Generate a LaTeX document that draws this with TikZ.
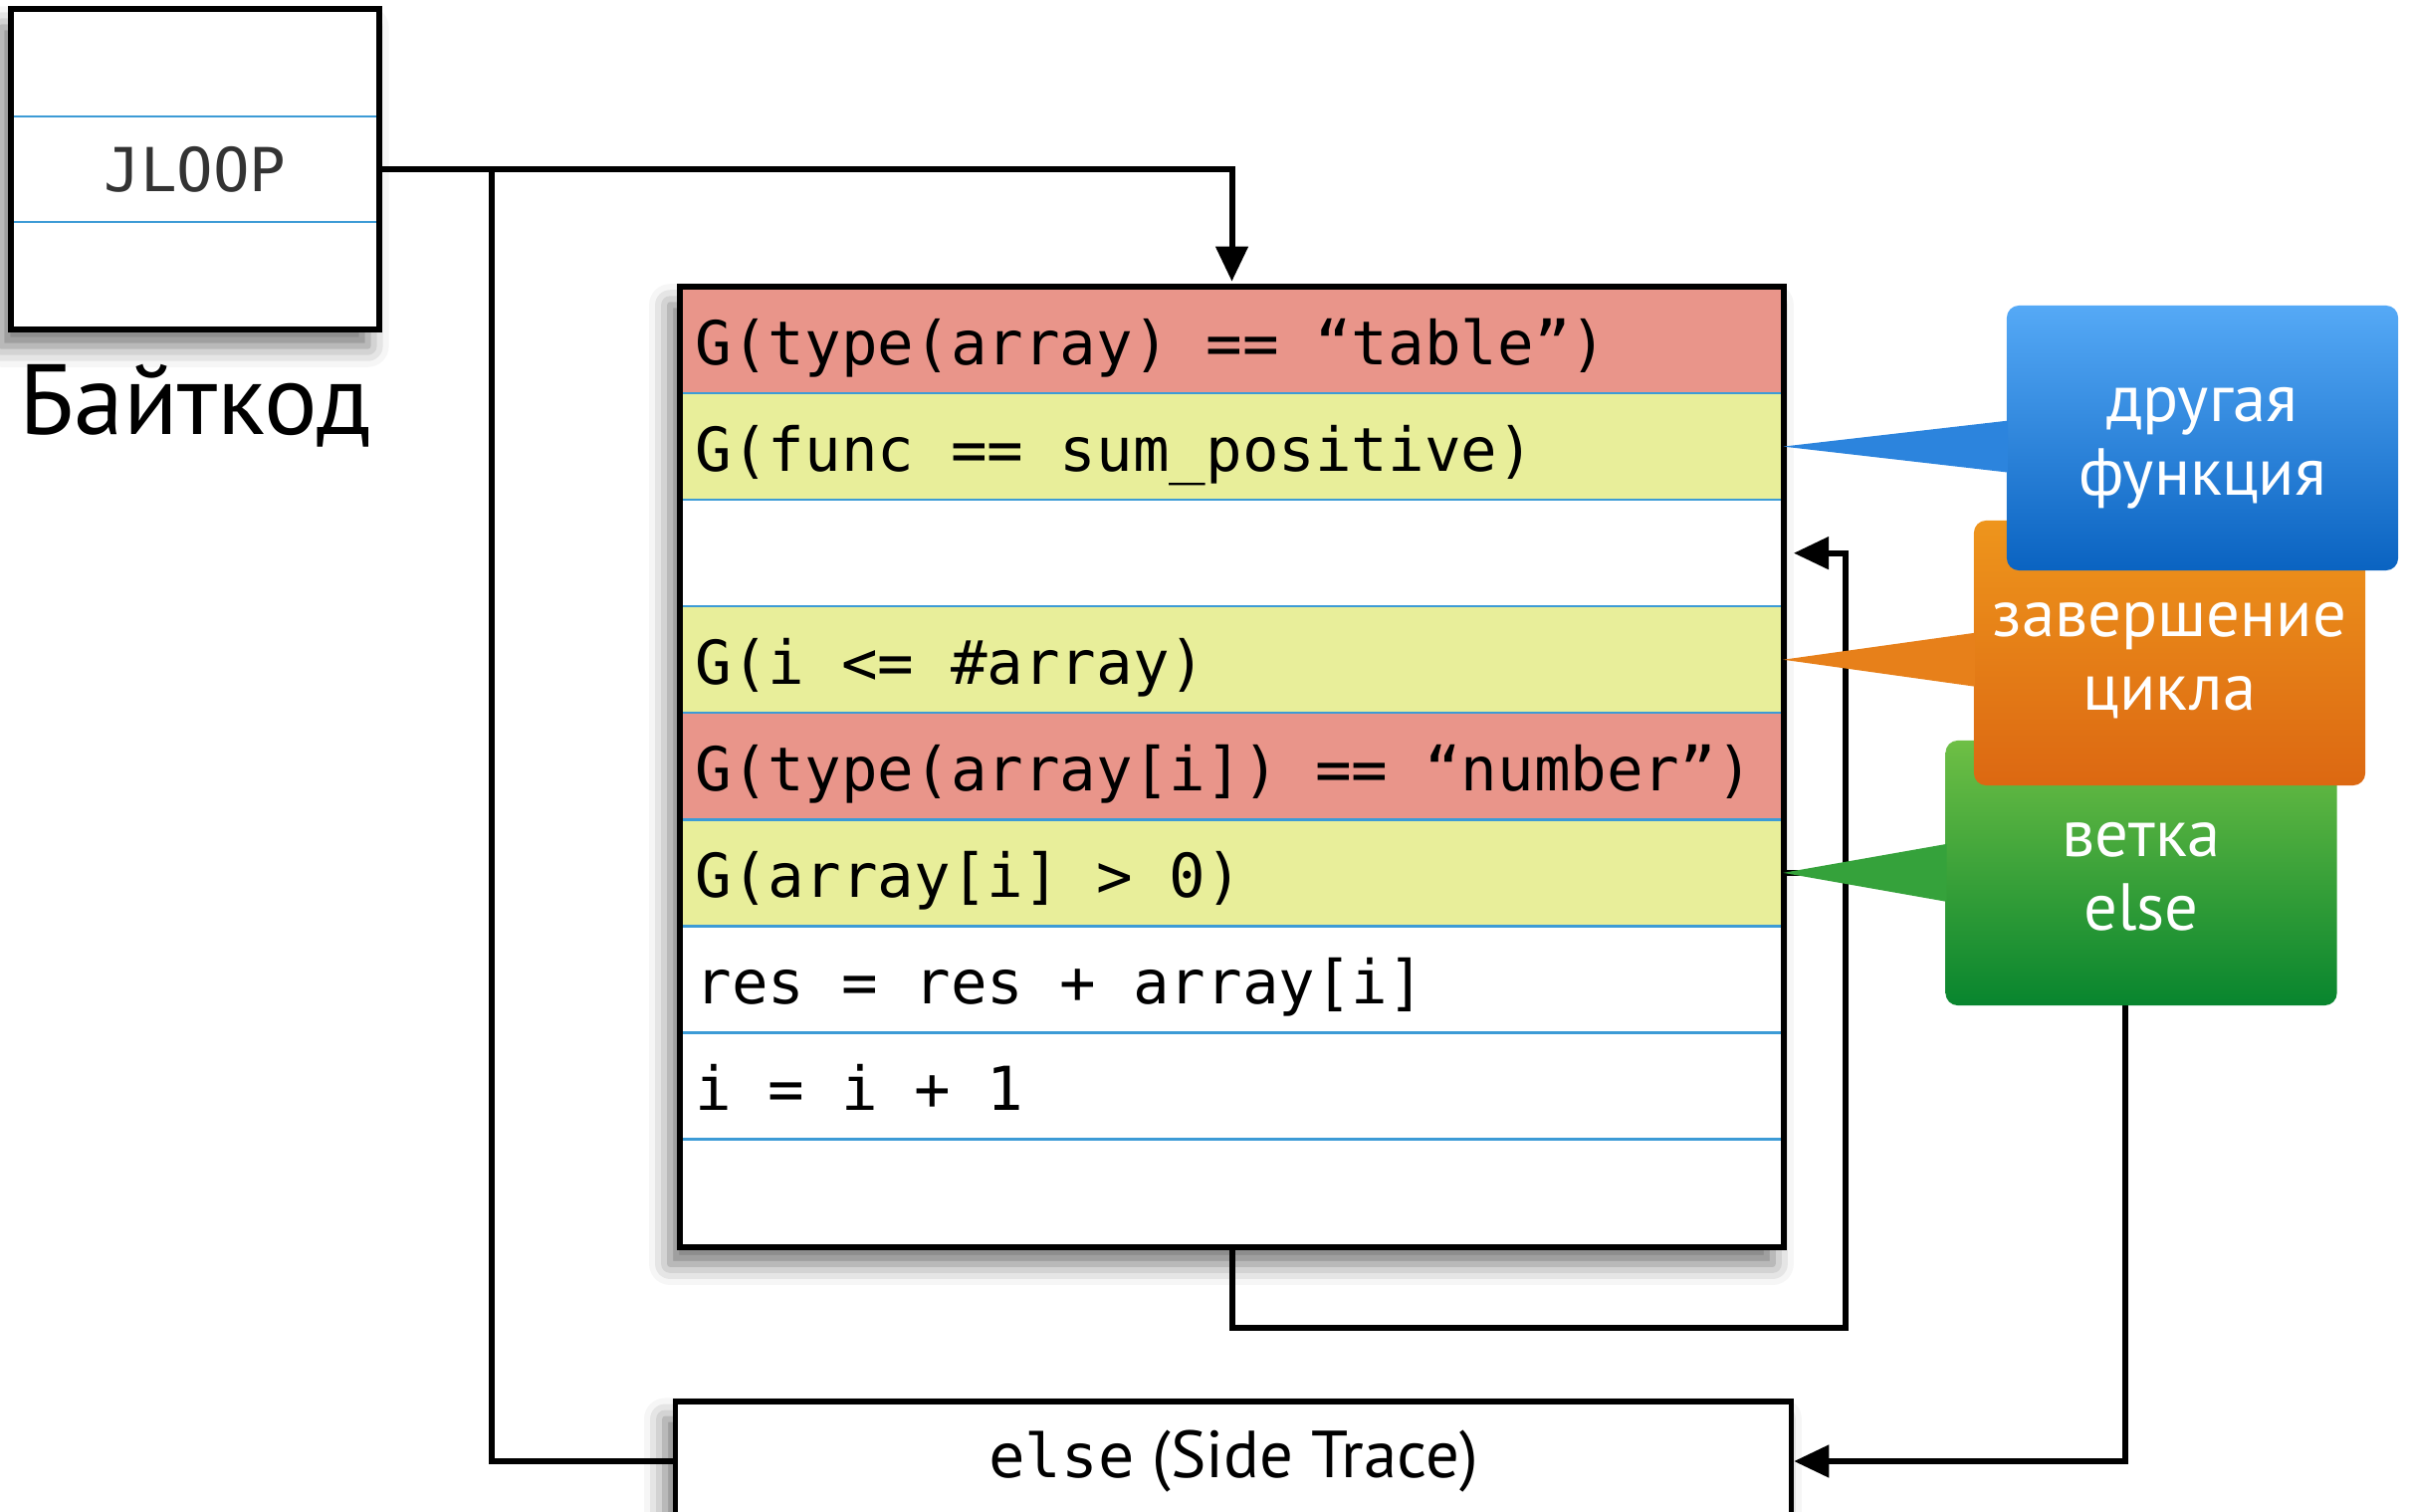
\documentclass[tikz,border=0pt]{standalone}
\usepackage{fontspec}
\setmainfont{PT Sans}
\setmonofont{DejaVu Sans Mono}
\usetikzlibrary{positioning, arrows.meta, calc, shadows.blur}

\definecolor{rowred}{HTML}{E9958A}
\definecolor{rowyellow}{HTML}{E8EE9A}
\definecolor{rowblue}{HTML}{3C9BD6}
\definecolor{bluetop}{HTML}{55A9F6}
\definecolor{bluebot}{HTML}{0A63C1}
\definecolor{bluemid}{HTML}{2C84DD}
\definecolor{orangetop}{HTML}{EE951C}
\definecolor{orangebot}{HTML}{DC6812}
\definecolor{orangemid}{HTML}{E7801A}
\definecolor{greentop}{HTML}{6EBF45}
\definecolor{greenbot}{HTML}{08852E}
\definecolor{greenmid}{HTML}{35A23B}

\newcommand{\codefont}{\fontsize{17.3}{20}\selectfont\ttfamily}
\newcommand{\notefont}{\fontsize{19}{21}\selectfont}

\begin{document}
\begin{tikzpicture}[x=0.01cm, y=-0.01cm,
            boxline/.style={draw=black, line width=1.6pt},
            rowline/.style={draw=rowblue, line width=0.7pt},
            conn/.style={draw=black, line width=1.7pt},
            arrowconn/.style={conn, -{Triangle[length=10pt, width=9pt]}},
            shadowbox/.style={fill=white, blur shadow={shadow xshift=-3pt, shadow yshift=-5pt, shadow blur radius=6pt, shadow opacity=55}},
            coderow/.style={minimum width=11.07cm, minimum height=1.07cm, text width=10.77cm, text height=16pt, text depth=2pt, inner xsep=0.15cm, inner ysep=0pt, outer sep=0pt, align=flush left, font=\codefont},
            redrow/.style={coderow, fill=rowred},
            yellowrow/.style={coderow, fill=rowyellow},
            whiterow/.style={coderow},
            callbox/.style={rounded corners=3.5pt, minimum width=3.93cm, minimum height=2.66cm, text depth=3pt, align=center, text=white, font=\notefont}
        ]
            \useasboundingbox (0,0) rectangle (2421,1519);

            % bytecode box
            \node[shadowbox, minimum width=3.68cm, minimum height=3.2cm] (bcode) at (196,170) {};
            \node[minimum width=3.68cm, minimum height=1.05cm, font=\codefont, text=black!80] (jloop) at (bcode.center) {JLOOP};
            \draw[rowline] (jloop.north west) -- (jloop.north east);
            \draw[rowline] (jloop.south west) -- (jloop.south east);
            \draw[boxline] (bcode.north west) rectangle (bcode.south east);
            \node[font=\fontsize{28.5}{34}\selectfont, anchor=base west] (bctitle) at (7,437) {Байткод};

            % trace box
            \node[shadowbox, minimum width=11.07cm, minimum height=9.63cm] (main) at (1237.5,770.5) {};
            \node[redrow, below=0pt of main.north] (r1) {G(type(array) == “table”)};
            \node[yellowrow, below=0pt of r1] (r2) {G(func == sum\_positive)};
            \node[whiterow, below=0pt of r2] (r3) {};
            \node[yellowrow, below=0pt of r3] (r4) {G(i <= \#array)};
            \node[redrow, below=0pt of r4] (r5) {G(type(array[i]) == “number”)};
            \node[yellowrow, below=0pt of r5] (r6) {G(array[i] > 0)};
            \node[whiterow, below=0pt of r6] (r7) {res = res + array[i]};
            \node[whiterow, below=0pt of r7] (r8) {i = i + 1};
            \node[whiterow, below=0pt of r8] (r9) {};
            \foreach \r in {1,...,8}{
                \draw[rowline] (r\r.south west) -- (r\r.south east);
            }
            \draw[boxline] (main.north west) rectangle (main.south east);

            % side trace
            \node[shadowbox, boxline, minimum width=11.2cm, minimum height=1.2cm] (side) at (1239,1468) {{\codefont else}{\notefont~(Side Trace)}};

            % connectors
            \coordinate (split) at (494,168.5);
            \coordinate (loopcorner) at (1854,1334);
            \coordinate (elsedrop) at (2135,1468);
            \draw[arrowconn, shorten >=1.5pt] (jloop.east) -| (main.north);
            \draw[conn] (split) |- (side.west);
            \draw[arrowconn, shorten >=3pt] (main.south) |- (loopcorner) |- (r3.east);
            \draw[arrowconn] (r6.east) -| (elsedrop) -- (side.east);

            % callouts
            \node[callbox, top color=greentop, bottom color=greenbot] (celse) at (2151,877) {\strut ветка\\\strut else};
            \fill[greenmid] (r6.east) -- ($(r6.east -| celse.west)+(2,-29)$) -- ($(r6.east -| celse.west)+(2,29)$) -- cycle;
            \node[callbox, top color=orangetop, bottom color=orangebot] (cexit) at (2179.5,656) {\strut завершение\\\strut цикла};
            \fill[orangemid] (r4.east) -- ($(r4.east -| cexit.west)+(2,-27)$) -- ($(r4.east -| cexit.west)+(2,27)$) -- cycle;
            \node[callbox, top color=bluetop, bottom color=bluebot] (cfunc) at (2212.5,440) {\strut другая\\\strut функция};
            \fill[bluemid] (r2.east) -- ($(r2.east -| cfunc.west)+(2,-26)$) -- ($(r2.east -| cfunc.west)+(2,26)$) -- cycle;

        \end{tikzpicture}
\end{document}
